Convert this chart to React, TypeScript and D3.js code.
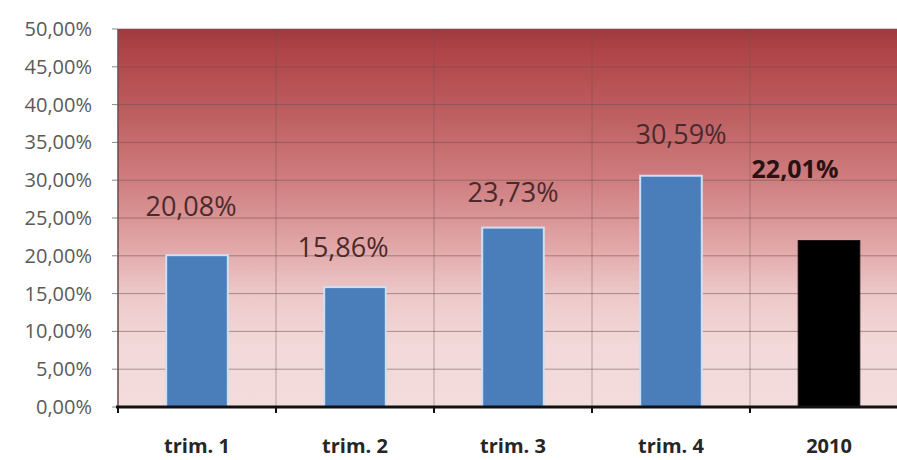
import React from "react";
import * as d3 from "d3";

// Quarterly shares and the yearly total
const categories = ["trim. 1", "trim. 2", "trim. 3", "trim. 4", "2010"];
const values = [0.2008, 0.1586, 0.2373, 0.3059, 0.2201];
const valueLabels = ["20,08%", "15,86%", "23,73%", "30,59%", "22,01%"];
const yTicks = [0, 0.05, 0.1, 0.15, 0.2, 0.25, 0.3, 0.35, 0.4, 0.45, 0.5];

// Hand-placed label nudges (dx, dy from the bar top centre)
const labelNudge: [number, number][] = [
  [-6, -49],
  [-12, -40],
  [0, -35],
  [10, -41],
  [-34, -71],
];

const W = 897;
const H = 460;
const left = 118;
const right = 908;
const top = 29;
const bottom = 407;

const fmtTick = (v: number) => (v * 100).toFixed(2).replace(".", ",") + "%";

export default function App() {
  const x = d3
    .scaleBand<string>()
    .domain(categories)
    .range([left, right])
    .paddingInner(0.61)
    .paddingOuter(0.305);
  const y = d3.scaleLinear().domain([0, 0.5]).range([bottom, top]);
  const step = x.step();
  const bounds = d3.range(categories.length + 1).map((i) => left + i * step);

  return (
    <svg
      width={W}
      height={H}
      style={{ position: "fixed", left: 0, top: 0, background: "#fff" }}
      fontFamily="'Open Sans', sans-serif"
    >
      <defs>
        <linearGradient id="plotBg" x1="0" y1="0" x2="0" y2="1">
          <stop offset="0" stopColor="#9e3a3e" />
          <stop offset="0.06" stopColor="#b04448" />
          <stop offset="0.22" stopColor="#bd5e60" />
          <stop offset="0.4" stopColor="#cf7d7f" />
          <stop offset="0.56" stopColor="#e0a3a4" />
          <stop offset="0.7" stopColor="#edc8c8" />
          <stop offset="0.84" stopColor="#f3d9d9" />
          <stop offset="1" stopColor="#f3dcdc" />
        </linearGradient>
      </defs>

      <rect x={left} y={top} width={right - left} height={bottom - top} fill="url(#plotBg)" />

      {/* horizontal gridlines and left ticks */}
      {yTicks.map((t) => (
        <g key={t}>
          {t > 0 && (
            <line x1={left} x2={right} y1={y(t)} y2={y(t)} stroke="#6e5252" strokeOpacity={0.55} strokeWidth={1} />
          )}
          <line x1={left - 6} x2={left} y1={y(t)} y2={y(t)} stroke="#888" strokeWidth={1} />
          <text
            x={left - 26}
            y={y(t)}
            dy="0.35em"
            textAnchor="end"
            fontSize={20}
            fill="#5a5a5a"
          >
            {fmtTick(t)}
          </text>
        </g>
      ))}

      {/* category separators */}
      {bounds.map((b, i) => (
        <line key={i} x1={b} x2={b} y1={top} y2={bottom} stroke="#6e5252" strokeOpacity={i === 0 ? 0.8 : 0.45} strokeWidth={i === 0 ? 2 : 1} />
      ))}

      {/* bars */}
      {values.map((v, i) => {
        const last = i === values.length - 1;
        return (
          <rect
            key={categories[i]}
            x={x(categories[i])}
            y={y(v)}
            width={x.bandwidth()}
            height={bottom - y(v)}
            fill={last ? "#000" : "#4a7ebb"}
            stroke={last ? "#1a1010" : "#cfdff2"}
            strokeWidth={last ? 1 : 2}
          />
        );
      })}

      {/* value labels */}
      {values.map((v, i) => {
        const last = i === values.length - 1;
        const cx = (x(categories[i]) as number) + x.bandwidth() / 2 + labelNudge[i][0];
        const cy = y(v) + labelNudge[i][1];
        return (
          <text
            key={"l" + i}
            x={cx}
            y={cy}
            dy="0.35em"
            textAnchor="middle"
            fontSize={last ? 25 : 27}
            fontWeight={last ? 700 : 400}
            fill={last ? "#2a1214" : "#4a2a2c"}
          >
            {valueLabels[i]}
          </text>
        );
      })}

      {/* bottom axis */}
      <line x1={left - 2} x2={right} y1={bottom} y2={bottom} stroke="#111" strokeWidth={3} />
      {bounds.map((b, i) => (
        <line key={"t" + i} x1={b} x2={b} y1={bottom} y2={bottom + 6} stroke="#111" strokeWidth={2} />
      ))}
      {categories.map((c) => (
        <text
          key={"c" + c}
          x={(x(c) as number) + x.bandwidth() / 2}
          y={446}
          dy="0.35em"
          textAnchor="middle"
          fontSize={20}
          fontWeight={700}
          fill="#262626"
        >
          {c}
        </text>
      ))}
    </svg>
  );
}
